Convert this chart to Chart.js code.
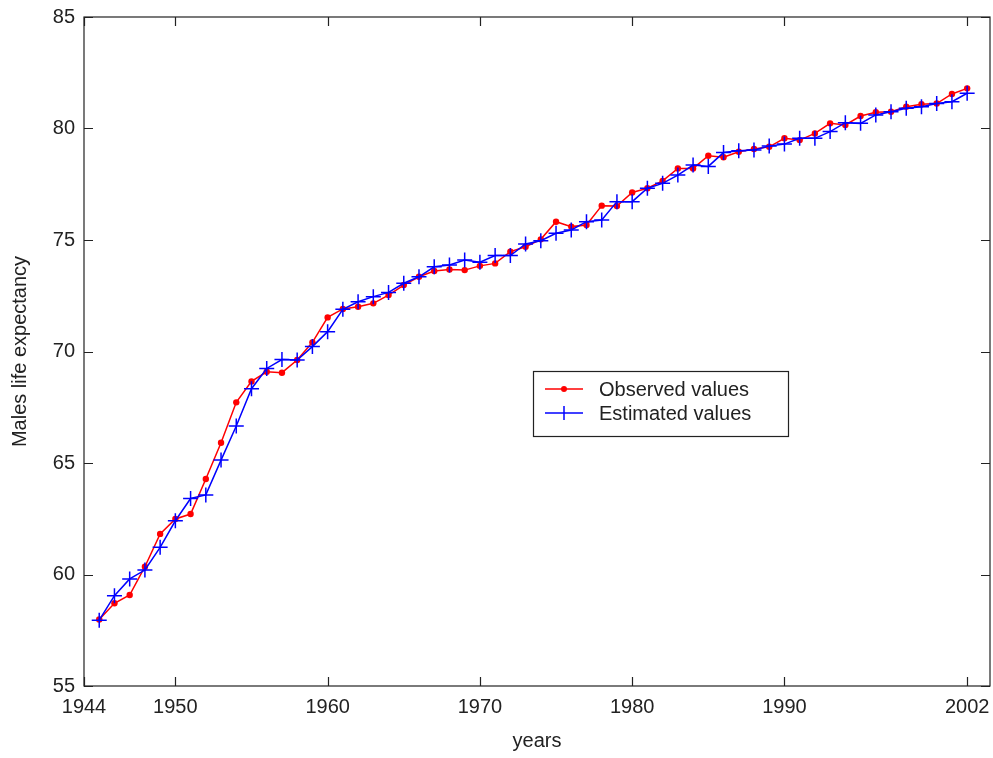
<!DOCTYPE html>
<html>
<head>
<meta charset="utf-8">
<script src="https://cdn.jsdelivr.net/npm/chart.js@4.4.1/dist/chart.umd.min.js"></script>
<style>
  html, body { margin: 0; padding: 0; background: #fff; }
  #wrap { width: 993px; height: 758px; }
</style>
</head>
<body>
<div id="wrap"><canvas id="lifeChart" width="993" height="758"></canvas></div>
<script>
// Data
const years = [1945, 1946, 1947, 1948, 1949, 1950, 1951, 1952, 1953, 1954,
    1955, 1956, 1957, 1958, 1959, 1960, 1961, 1962, 1963, 1964,
    1965, 1966, 1967, 1968, 1969, 1970, 1971, 1972, 1973, 1974,
    1975, 1976, 1977, 1978, 1979, 1980, 1981, 1982, 1983, 1984,
    1985, 1986, 1987, 1988, 1989, 1990, 1991, 1992, 1993, 1994,
    1995, 1996, 1997, 1998, 1999, 2000, 2001, 2002];

const observed = [57.98, 58.71, 59.08, 60.35, 61.82, 62.49, 62.71, 64.28, 65.91, 67.72,
    68.66, 69.09, 69.05, 69.62, 70.41, 71.53, 71.91, 72.01, 72.16, 72.53,
    72.98, 73.35, 73.61, 73.68, 73.65, 73.84, 73.95, 74.48, 74.70, 75.03,
    75.82, 75.60, 75.67, 76.54, 76.52, 77.13, 77.32, 77.65, 78.21, 78.21,
    78.78, 78.71, 78.96, 79.08, 79.18, 79.56, 79.48, 79.78, 80.23, 80.16,
    80.56, 80.73, 80.75, 80.98, 81.09, 81.12, 81.55, 81.80];

const estimated = [57.95, 59.05, 59.80, 60.20, 61.22, 62.41, 63.41, 63.57, 65.13, 66.66,
    68.33, 69.24, 69.64, 69.62, 70.22, 70.89, 71.89, 72.23, 72.46, 72.65,
    73.06, 73.35, 73.80, 73.88, 74.10, 74.00, 74.30, 74.30, 74.82, 74.97,
    75.30, 75.45, 75.82, 75.90, 76.72, 76.72, 77.32, 77.54, 77.91, 78.36,
    78.30, 78.92, 79.00, 79.04, 79.21, 79.30, 79.56, 79.56, 79.86, 80.26,
    80.23, 80.61, 80.75, 80.91, 80.98, 81.12, 81.20, 81.58];

const xTicks = [1944, 1950, 1960, 1970, 1980, 1990, 2002];
const yTicks = [55, 60, 65, 70, 75, 80, 85];

const seriesNames = ['Observed values', 'Estimated values'];
const seriesColors = ['#ff0000', '#0000ff'];

const FONT = 'Liberation Sans, Arial, Helvetica, sans-serif';
const AXIS_COLOR = '#222';
const TICK_LEN = 9;

// MATLAB-style box with inward ticks on all four sides
const boxPlugin = {
    id: 'boxTicks',
    afterDatasetsDraw(chart) {
        const ctx = chart.ctx;
        const a = chart.chartArea;
        const xs = chart.scales.x;
        const ys = chart.scales.y;
        ctx.save();
        ctx.strokeStyle = AXIS_COLOR;
        ctx.lineWidth = 1.2;
        ctx.strokeRect(a.left, a.top, a.right - a.left, a.bottom - a.top);
        ctx.beginPath();
        xTicks.forEach(v => {
            const px = Math.round(xs.getPixelForValue(v)) + 0.5;
            ctx.moveTo(px, a.bottom);
            ctx.lineTo(px, a.bottom - TICK_LEN);
            ctx.moveTo(px, a.top);
            ctx.lineTo(px, a.top + TICK_LEN);
        });
        yTicks.forEach(v => {
            const py = Math.round(ys.getPixelForValue(v)) + 0.5;
            ctx.moveTo(a.left, py);
            ctx.lineTo(a.left + TICK_LEN, py);
            ctx.moveTo(a.right, py);
            ctx.lineTo(a.right - TICK_LEN, py);
        });
        ctx.stroke();
        ctx.restore();
    }
};

// Legend box inside the plot, like the original
const legendPlugin = {
    id: 'insideLegend',
    afterDraw(chart) {
        const ctx = chart.ctx;
        const a = chart.chartArea;
        const bx = a.left + 449;
        const by = a.top + 354;
        const bw = 255;
        const bh = 65;
        ctx.save();
        ctx.fillStyle = '#fff';
        ctx.fillRect(bx, by, bw, bh);
        ctx.strokeStyle = AXIS_COLOR;
        ctx.lineWidth = 1.2;
        ctx.strokeRect(bx + 0.5, by + 0.5, bw, bh);

        ctx.font = '20px ' + FONT;
        ctx.textBaseline = 'middle';
        seriesNames.forEach((name, i) => {
            const cy = by + 18 + i * 24;
            const x0 = bx + 12;
            const x1 = bx + 50;
            const mx = (x0 + x1) / 2;
            ctx.strokeStyle = seriesColors[i];
            ctx.lineWidth = 1.5;
            ctx.beginPath();
            ctx.moveTo(x0, cy);
            ctx.lineTo(x1, cy);
            ctx.stroke();
            if (i === 0) {
                ctx.fillStyle = seriesColors[i];
                ctx.beginPath();
                ctx.arc(mx, cy, 3, 0, Math.PI * 2);
                ctx.fill();
            } else {
                ctx.beginPath();
                ctx.moveTo(mx, cy - 7);
                ctx.lineTo(mx, cy + 7);
                ctx.stroke();
            }
            ctx.fillStyle = AXIS_COLOR;
            ctx.fillText(name, bx + 66, cy + 1);
        });
        ctx.restore();
    }
};

const ctx = document.getElementById('lifeChart').getContext('2d');
const lifeChart = new Chart(ctx, {
    type: 'line',
    data: {
        datasets: [{
            label: seriesNames[0],
            data: years.map((y, i) => ({ x: y, y: observed[i] })),
            borderColor: seriesColors[0],
            backgroundColor: seriesColors[0],
            borderWidth: 1.5,
            pointStyle: 'circle',
            pointRadius: 3.2,
            pointBorderWidth: 0,
            fill: false,
            tension: 0,
            order: 1
        }, {
            label: seriesNames[1],
            data: years.map((y, i) => ({ x: y, y: estimated[i] })),
            borderColor: seriesColors[1],
            backgroundColor: seriesColors[1],
            borderWidth: 1.5,
            pointStyle: 'cross',
            pointRadius: 7.5,
            pointBorderWidth: 1.5,
            fill: false,
            tension: 0,
            order: 0
        }]
    },
    options: {
        responsive: false,
        animation: false,
        layout: { autoPadding: false, padding: { left: 0, right: 3, top: 17, bottom: 0 } },
        plugins: {
            legend: { display: false },
            tooltip: { enabled: false }
        },
        scales: {
            x: {
                type: 'linear',
                min: 1944,
                max: 2003.5,
                afterBuildTicks(scale) {
                    scale.ticks = xTicks.map(v => ({ value: v }));
                },
                afterFit(scale) {
                    scale.height = 72;
                    scale.paddingLeft = 0;
                    scale.paddingRight = 0;
                },
                grid: { display: false, drawTicks: false },
                border: { display: false },
                ticks: {
                    autoSkip: false,
                    maxRotation: 0,
                    padding: 9,
                    color: AXIS_COLOR,
                    font: { family: FONT, size: 20 },
                    callback: v => String(v)
                },
                title: {
                    display: true,
                    text: 'years',
                    color: AXIS_COLOR,
                    font: { family: FONT, size: 20 },
                    padding: { top: 0, bottom: 5 }
                }
            },
            y: {
                min: 55,
                max: 85,
                afterBuildTicks(scale) {
                    scale.ticks = yTicks.map(v => ({ value: v }));
                },
                afterFit(scale) {
                    scale.width = 84;
                    scale.paddingTop = 0;
                    scale.paddingBottom = 0;
                },
                grid: { display: false, drawTicks: false },
                border: { display: false },
                ticks: {
                    padding: 9,
                    color: AXIS_COLOR,
                    font: { family: FONT, size: 20 }
                },
                title: {
                    display: true,
                    text: 'Males life expectancy',
                    color: AXIS_COLOR,
                    font: { family: FONT, size: 20 },
                    padding: { top: 8, bottom: 0 }
                }
            }
        }
    },
    plugins: [boxPlugin, legendPlugin]
});
</script>
</body>
</html>
